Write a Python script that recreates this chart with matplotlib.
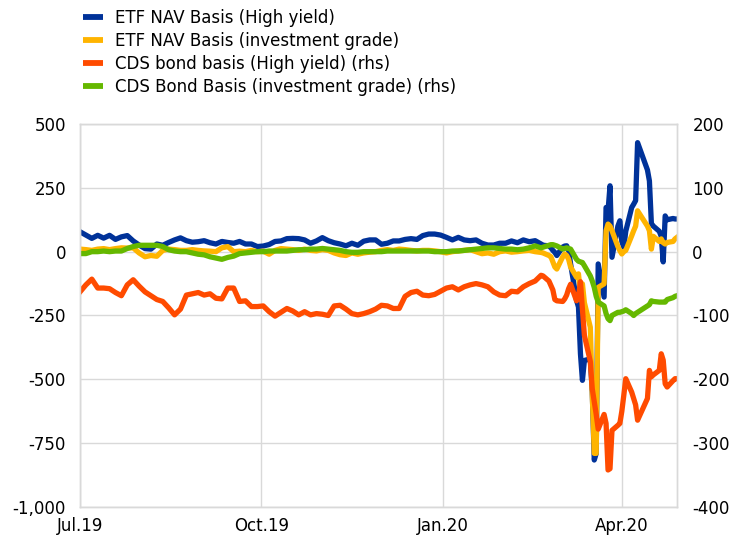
import matplotlib
matplotlib.use("Agg")
import matplotlib.pyplot as plt
from matplotlib.ticker import FuncFormatter
import pandas as pd

plt.rcParams['font.family'] = ['DejaVu Sans']

dates = [
    "2019-07-01", "2019-07-04", "2019-07-07", "2019-07-10", "2019-07-13", "2019-07-16", "2019-07-19",
    "2019-07-22", "2019-07-25", "2019-07-28", "2019-07-31", "2019-08-03", "2019-08-06", "2019-08-09",
    "2019-08-12", "2019-08-15", "2019-08-18", "2019-08-21", "2019-08-24", "2019-08-27", "2019-08-30",
    "2019-09-02", "2019-09-05", "2019-09-08", "2019-09-11", "2019-09-14", "2019-09-17", "2019-09-20",
    "2019-09-23", "2019-09-26", "2019-09-29", "2019-10-02", "2019-10-05", "2019-10-08", "2019-10-11",
    "2019-10-14", "2019-10-17", "2019-10-20", "2019-10-23", "2019-10-26", "2019-10-29", "2019-11-01",
    "2019-11-04", "2019-11-07", "2019-11-10", "2019-11-13", "2019-11-16", "2019-11-19", "2019-11-22",
    "2019-11-25", "2019-11-28", "2019-12-01", "2019-12-04", "2019-12-07", "2019-12-10", "2019-12-13",
    "2019-12-16", "2019-12-19", "2019-12-22", "2019-12-25", "2019-12-28", "2019-12-31", "2020-01-03",
    "2020-01-06", "2020-01-09", "2020-01-12", "2020-01-15", "2020-01-18", "2020-01-21", "2020-01-24",
    "2020-01-27", "2020-01-30", "2020-02-02", "2020-02-05", "2020-02-08", "2020-02-11", "2020-02-14",
    "2020-02-17",
    "2020-02-20", "2020-02-21", "2020-02-24", "2020-02-25", "2020-02-26", "2020-02-27", "2020-02-28",
    "2020-03-02", "2020-03-03", "2020-03-04", "2020-03-05", "2020-03-06",
    "2020-03-09", "2020-03-10", "2020-03-11", "2020-03-12", "2020-03-13",
    "2020-03-16", "2020-03-17", "2020-03-18", "2020-03-19", "2020-03-20",
    "2020-03-23", "2020-03-24", "2020-03-25", "2020-03-26", "2020-03-27",
    "2020-03-30", "2020-03-31",
    "2020-04-01", "2020-04-02", "2020-04-03",
    "2020-04-06", "2020-04-07", "2020-04-08", "2020-04-09",
    "2020-04-14", "2020-04-15", "2020-04-16", "2020-04-17",
    "2020-04-20", "2020-04-21", "2020-04-22", "2020-04-23", "2020-04-24",
    "2020-04-27", "2020-04-28", "2020-04-29",
]

# ETF NAV Basis (High yield) - lhs
etf_hy = [
    78, 65, 52, 64, 53, 64, 48, 58, 63, 42,
    26, 12, 10, 30, 25, 36, 46, 54, 43, 37,
    39, 43, 35, 30, 40, 36, 33, 40, 30, 30,
    20, 22, 28, 40, 42,
    51, 52, 51, 46, 33, 42, 55, 43, 35, 30,
    23, 33, 25, 41, 46, 46, 29, 33, 42, 42,
    48, 51, 48, 63, 69, 69, 65, 56, 46, 56,
    46, 43, 46, 33, 26, 26, 33, 33, 42, 35,
    46, 39, 43,
    30, 25, 23, 15, 5, -3, -15,
    18, 22, 23, 5, -48,
    -190, -217, -400, -504, -426,
    -420, -550, -816, -790, -48,
    -178, 173, 160, 258, -22,
    100, 121,
    40, 17, 80,
    173, 186, 200, 427,
    320, 277, 110, 100,
    80, 60, -40, 140, 125,
    130, 128, 128,
]

# ETF NAV Basis (investment grade) - lhs
etf_ig = [
    10, 8, 5, 10, 12, 8, 12, 15, 14, 15,
    -5, -20, -15, -18, 5, 10, 8, 5, 5, 8,
    5, 3, 2, 0, 15, 20, 0, 2, 0, 5,
    0, 2, -10, 5, 12,
    10, 8, 5, 10, 5, 3, 8, 5, -5, -12,
    -15, -5, -10, -5, -2, 0, 5, 8, 5, 10,
    8, 5, 3, 5, 5, 3, 0, -5, 0, 3,
    5, 8, 0, -8, -5, -10, 0, 3, -2, 0,
    3, 5, 0,
    -3, -5, -15, -20, -40, -60, -68,
    -20, -9, -15, -30, -60,
    -100, -87, -165, -126, -200,
    -296, -560, -790, -790, -140,
    -126, 82, 108, 100, 82,
    20, 4,
    -9, 0, 5,
    62, 82, 100, 160,
    100, 82, 10, 60,
    40, 50, 35, 30, 36,
    40, 50, 56,
]

# CDS bond basis (High yield) - rhs
cds_hy = [
    -63, -52, -43, -57, -57, -58, -64, -69, -52, -44,
    -54, -63, -69, -75, -78, -88, -99, -90, -68, -66,
    -64, -68, -66, -73, -74, -57, -57, -78, -77, -86,
    -86, -85, -94, -101, -95,
    -89, -93, -99, -94, -99, -97, -98, -100, -85, -84,
    -90, -97, -99, -97, -94, -90, -84, -85, -89, -89,
    -70, -64, -62, -68, -69, -67, -62, -57, -55, -60,
    -55, -52, -50, -52, -55, -63, -68, -69, -62, -63,
    -55, -50, -46,
    -37, -38, -46, -53, -60, -75, -77,
    -78, -74, -68, -58, -51,
    -77, -70, -47, -90, -131,
    -172, -215, -235, -255, -278,
    -255, -269, -342, -340, -280,
    -272, -269,
    -250, -225, -199,
    -220, -230, -240, -264,
    -230, -186, -196, -193,
    -186, -160, -170, -207, -212,
    -202, -199, -199,
]

# CDS Bond Basis (investment grade) - rhs
cds_ig = [
    -3, -3, 0, 0, 1, 0, 1, 1, 5, 8,
    10, 10, 10, 10, 8, 3, 1, 0, 0, -2,
    -4, -5, -8, -10, -12, -9, -7, -3, -2, -1,
    0, 0, 1, 1, 1,
    1, 2, 3, 3, 4, 4, 5, 4, 3, 2,
    0, -1, -1, 0, 0, 0, 0, 1, 1, 1,
    1, 1, 1, 1, 1, 0, 0, 0, 1, 1,
    2, 3, 4, 5, 6, 6, 5, 4, 4, 3,
    4, 6, 9,
    6, 7, 10, 11, 11, 10, 9,
    4, 5, 6, 5, 4,
    -12, -15, -16, -17, -22,
    -38, -46, -56, -70, -79,
    -85, -97, -105, -108, -100,
    -95, -95,
    -94, -93, -91,
    -97, -100, -97, -95,
    -85, -83, -77, -78,
    -79, -79, -79, -79, -75,
    -72, -70, -69,
]

labels = [
    "ETF NAV Basis (High yield)",
    "ETF NAV Basis (investment grade)",
    "CDS bond basis (High yield) (rhs)",
    "CDS Bond Basis (investment grade) (rhs)",
]
colors = ["#003299", "#FFB400", "#FF4B00", "#65B800"]

tick_dates = ["2019-07-01", "2019-10-01", "2020-01-01", "2020-04-01"]
tick_labels = ["Jul.19", "Oct.19", "Jan.20", "Apr.20"]
left_ticks = [-1000, -750, -500, -250, 0, 250, 500]
right_ticks = [-400, -300, -200, -100, 0, 100, 200]

x = pd.to_datetime(dates)
grid_c = "#d9d9d9"
lw = 3.8
fs = 12

fig = plt.figure(figsize=(7.31, 5.37), dpi=100)
ax = fig.add_axes([80 / 731, 1 - 507 / 537, 597 / 731, 383 / 537])
ax2 = ax.twinx()

l1, = ax.plot(x, etf_hy, color=colors[0], lw=lw, label=labels[0])
l2, = ax.plot(x, etf_ig, color=colors[1], lw=lw, label=labels[1])
l3, = ax2.plot(x, cds_hy, color=colors[2], lw=lw, label=labels[2])
l4, = ax2.plot(x, cds_ig, color=colors[3], lw=lw, label=labels[3])

ax.set_xlim(pd.Timestamp("2019-07-01"), pd.Timestamp("2020-04-29"))
ax.set_ylim(-1000, 500)
ax2.set_ylim(-400, 200)
ax.set_yticks(left_ticks)
ax2.set_yticks(right_ticks)
ax.yaxis.set_major_formatter(FuncFormatter(lambda v, p: f"{int(v):,}"))
ax2.yaxis.set_major_formatter(FuncFormatter(lambda v, p: f"{int(v)}"))
ax.set_xticks(pd.to_datetime(tick_dates))
ax.set_xticklabels(tick_labels)

ax.grid(True, color=grid_c, lw=1)
ax.set_axisbelow(True)
for a in (ax, ax2):
    for s in a.spines.values():
        s.set_color(grid_c)
        s.set_linewidth(1)
ax.tick_params(axis="y", length=0, pad=10, labelsize=fs, colors="black")
ax.tick_params(axis="x", length=0, pad=7, labelsize=fs, colors="black")
ax2.tick_params(axis="y", length=0, pad=11, labelsize=fs, colors="black")

leg = fig.legend([l1, l2, l3, l4], labels, loc="upper left",
                 bbox_to_anchor=(74 / 731, 1.0), frameon=False, fontsize=fs,
                 handlelength=1.2, handletextpad=0.7, labelspacing=0.3,
                 borderaxespad=0.15)
for h in leg.legend_handles:
    h.set_linewidth(4.2)
    h.set_solid_capstyle("butt")

fig.savefig("out.png", dpi=100)
